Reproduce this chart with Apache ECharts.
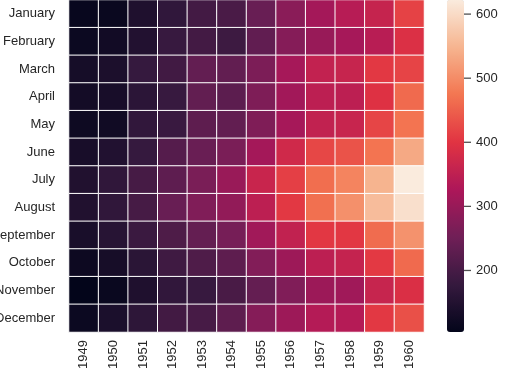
<!DOCTYPE html>
<html>
<head>
<meta charset="utf-8">
<script src="https://cdn.jsdelivr.net/npm/echarts@6/dist/echarts.min.js"></script>
<style>
html, body { margin: 0; padding: 0; background: #fff; }
#chart { width: 532px; height: 378px; }
</style>
</head>
<body>
<div id="chart"></div>
<script>
const years = ['1949','1950','1951','1952','1953','1954','1955','1956','1957','1958','1959','1960'];
const months = ['January','February','March','April','May','June','July','August','September','October','November','December'];
// passengers by year, Jan..Dec
const passengers = {
	'1949': [112,118,132,129,121,135,148,148,136,119,104,118],
	'1950': [115,126,141,135,125,149,170,170,158,133,114,140],
	'1951': [145,150,178,163,172,178,199,199,184,162,146,166],
	'1952': [171,180,193,181,183,218,230,242,209,191,172,194],
	'1953': [196,196,236,235,229,243,264,272,237,211,180,201],
	'1954': [204,188,235,227,234,264,302,293,259,229,203,229],
	'1955': [242,233,267,269,270,315,364,347,312,274,237,278],
	'1956': [284,277,317,313,318,374,413,405,355,306,271,306],
	'1957': [315,301,356,348,355,422,465,467,404,347,305,336],
	'1958': [340,318,362,348,363,435,491,505,404,359,310,337],
	'1959': [360,342,406,396,420,472,548,559,463,407,362,405],
	'1960': [417,391,419,461,472,535,622,606,508,461,390,432]
};
const colorTicks = [200, 300, 400, 500, 600];
const vMin = 104, vMax = 622;

function initHeat(){
	let myChart = echarts.init(document.getElementById('chart'));

	let cells = [];
	years.forEach(function(y, i){
		passengers[y].forEach(function(v, j){
			cells.push([i, j, v]);
		});
	});

	// rocket colormap
	const rocket = ['#03051a','#35193e','#701f57','#ad1759','#e13342','#f37651','#f6b48f','#faebdd'];

	let labelStyle = {
		fontFamily: 'Liberation Sans, Arial, sans-serif',
		fontSize: 13,
		color: '#262626'
	};

	let option = {
		animation: false,
		grid: [
			{ left: 69, width: 355, top: 0, height: 332, outerBoundsMode: 'none' },
			{ left: 447, width: 17, top: 0, height: 332, outerBoundsMode: 'none' }
		],
		xAxis: [
			{
				type: 'category',
				gridIndex: 0,
				data: years,
				axisLine: { show: false },
				axisTick: { show: false },
				splitLine: { show: false },
				axisLabel: Object.assign({ rotate: 90, margin: 8 }, labelStyle)
			},
			{
				type: 'value',
				gridIndex: 1,
				min: 0,
				max: 1,
				show: false
			}
		],
		yAxis: [
			{
				type: 'category',
				gridIndex: 0,
				data: months,
				inverse: true,
				axisLine: { show: false },
				axisTick: { show: false },
				splitLine: { show: false },
				axisLabel: Object.assign({ margin: 14 }, labelStyle)
			},
			{
				type: 'value',
				gridIndex: 1,
				position: 'right',
				min: vMin,
				max: vMax,
				axisLine: { show: false },
				splitLine: { show: false },
				axisTick: { show: false },
				axisLabel: Object.assign({ margin: 12, customValues: colorTicks }, labelStyle)
			}
		],
		visualMap: {
			type: 'continuous',
			min: vMin,
			max: vMax,
			seriesIndex: 0,
			calculable: false,
			show: true,
			left: 447,
			top: 0,
			padding: 0,
			itemWidth: 17,
			itemHeight: 332,
			text: null,
			showLabel: false,
			textStyle: { color: 'transparent' },
			inRange: { color: rocket }
		},
		series: [
			{
				type: 'heatmap',
				xAxisIndex: 0,
				yAxisIndex: 0,
				data: cells,
				itemStyle: {
					borderColor: '#ffffff',
					borderWidth: 1
				},
				emphasis: { disabled: true }
			},
			{
				// colorbar tick marks
				type: 'scatter',
				xAxisIndex: 1,
				yAxisIndex: 1,
				symbol: 'rect',
				symbolSize: [7, 1.3],
				symbolOffset: [3.5, 0],
				silent: true,
				itemStyle: { color: '#262626' },
				data: colorTicks.map(function(t){ return [1, t]; })
			}
		]
	};

	myChart.setOption(option);
	return myChart;
}

initHeat();
</script>
</body>
</html>
